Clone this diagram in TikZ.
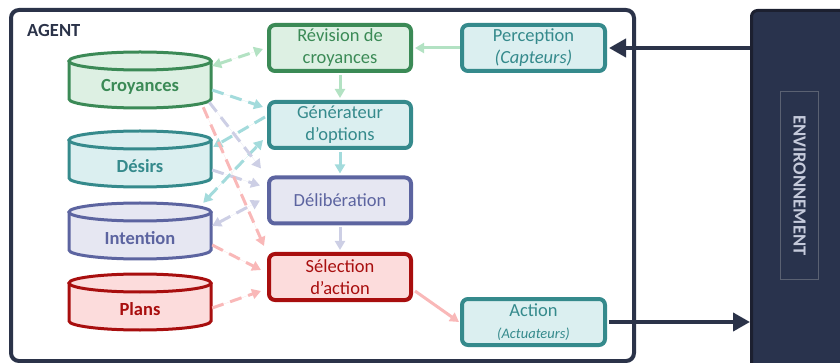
\documentclass[tikz,border=0pt]{standalone}
\usepackage{fontspec}
\setmainfont{Carlito}
\usetikzlibrary{arrows.meta,calc}

\definecolor{navy}{HTML}{2B3349}
\definecolor{envfill}{HTML}{29334D}
\definecolor{envedge}{HTML}{1C2030}
\definecolor{envline}{HTML}{5A6172}
\definecolor{envtext}{HTML}{C5CADB}
\definecolor{grn}{HTML}{3B8A56}
\definecolor{grnbg}{HTML}{DDF0E3}
\definecolor{grnlt}{HTML}{B3E2C3}
\definecolor{tea}{HTML}{358A8C}
\definecolor{teabg}{HTML}{DBEFF0}
\definecolor{tealt}{HTML}{A3DBDC}
\definecolor{ind}{HTML}{5C64A0}
\definecolor{indbg}{HTML}{E6E7F2}
\definecolor{indlt}{HTML}{CDCFE5}
\definecolor{red}{HTML}{A80E0E}
\definecolor{redbg}{HTML}{FCDCDC}
\definecolor{redlt}{HTML}{F9B8B8}

\newcommand\mainfnt{\fontsize{18.5}{22}\selectfont}
\newcommand\smallfnt{\fontsize{14.5}{18}\selectfont}

% storage drum: name, x, y, colour prefix, label
\newcommand\drum[5]{%
  \node[inner sep=0, minimum width=142, minimum height=56] (#1) at (#2,#3) {};
  \draw[line width=3, draw=#4, fill=#4bg]
    (#2-71,#3-19) -- (#2-71,#3+19)
    arc[start angle=180, end angle=0, x radius=71, y radius=9]
    -- (#2+71,#3-19);
  \draw[line width=3, draw=#4, fill=#4bg] (#2,#3-19) ellipse[x radius=71, y radius=9];
  \node[font=\mainfnt\bfseries, text=#4] at (#2,#3+7) {#5};
}

\tikzset{
  stepbox/.style={rounded corners=6, line width=4, minimum width=142, minimum height=46,
    align=center, inner sep=0, font=\mainfnt},
  ltlink/.style={line width=3, -{Triangle[length=9pt,width=10pt]}},
  dlink/.style={ltlink, dash pattern=on 12pt off 7pt},
  dlinkb/.style={dlink, {Triangle[length=9pt,width=10pt]}-{Triangle[length=9pt,width=10pt]}},
  darklink/.style={line width=4, draw=navy, -{Triangle[length=17pt,width=18pt]}},
}

\begin{document}
\begin{tikzpicture}[x=1pt, y=-1pt]
\useasboundingbox (0,0) rectangle (840,363);

% agent frame
\node[draw=navy, line width=4, rounded corners=8, minimum width=623, minimum height=351,
      inner sep=0] (agent) at (322.5,185.5) {};
\node[anchor=west, font=\mainfnt\bfseries, text=navy, inner sep=0] (agentlbl) at (27,31) {AGENT};

% environment block
\node[fill=envfill, draw=envedge, line width=3, rounded corners=6, minimum width=110,
      minimum height=372, inner sep=0, anchor=north west] (env) at (750,9) {};
\node[draw=envline, line width=1, rotate=-90, minimum width=188, minimum height=38,
      inner sep=0, font=\mainfnt\bfseries, text=envtext] (envlbl) at (799.5,185.5) {ENVIRONNEMENT};

% processing steps
\node[stepbox, draw=grn, fill=grnbg, text=grn] (rev) at (340,48) {Révision de\\croyances};
\node[stepbox, draw=tea, fill=teabg, text=tea] (gen) at (340,125) {Générateur\\d’options};
\node[stepbox, draw=ind, fill=indbg, text=ind] (delib) at (340,200.5) {Délibération};
\node[stepbox, draw=red, fill=redbg, text=red] (sel) at (340,277) {Sélection\\d’action};
\node[stepbox, minimum width=143, draw=tea, fill=teabg, text=tea] (perc) at (533.5,48)
  {Perception\\\itshape(Capteurs)};
\node[stepbox, minimum width=143, draw=tea, fill=teabg, text=tea] (act) at (533.5,322)
  {Action\\[0pt]{\smallfnt\itshape(Actuateurs)}};

% knowledge stores
\drum{croy}{140}{80}{grn}{Croyances}
\drum{des}{140}{159}{tea}{Désirs}
\drum{int}{140}{231}{ind}{Intention}
\drum{plans}{140}{302}{red}{Plans}

% main flow
\draw[ltlink, draw=grnlt, fill=grnlt] (perc.west) -- ($(rev.east)+(2,0)$);
\draw[ltlink, draw=grnlt, fill=grnlt] ($(rev.south)+(0,2)$) -- ($(gen.north)+(0,-2)$);
\draw[ltlink, draw=tealt, fill=tealt] ($(gen.south)+(0,2)$) -- ($(delib.north)+(0,-2)$);
\draw[ltlink, draw=indlt, fill=indlt] ($(delib.south)+(0,2)$) -- ($(sel.north)+(0,-2)$);
\draw[ltlink, draw=redlt, fill=redlt] ($(sel.east)+(2,14)$) -- ($(act.west)+(-1,0)$);

% store exchanges
\draw[dlinkb, draw=grnlt, fill=grnlt] ($(croy.east)+(1,-14)$) -- ($(rev.west)+(-4,1)$);
\draw[dlink, draw=tealt, fill=tealt] ($(croy.east)+(1,10)$) -- ($(gen.west)+(-4,-18)$);
\draw[dlink, draw=tealt, fill=tealt] ($(gen.west)+(-2,-8)$) -- ($(des.east)+(2,-12)$);
\draw[dlinkb, draw=tealt, fill=tealt] ($(int.north east)+(-8,0)$) -- ($(gen.west)+(-4,15)$);
\draw[dlink, draw=indlt, fill=indlt] ($(croy.south east)+(-2,-6)$) -- ($(delib.north west)+(-6,-7)$);
\draw[dlink, draw=indlt, fill=indlt] ($(des.east)+(1,11)$) -- ($(delib.west)+(-7,-15)$);
\draw[dlinkb, draw=indlt, fill=indlt] ($(int.east)+(1,-5)$) -- ($(delib.west)+(-7,0)$);
\draw[dlink, draw=redlt, fill=redlt] ($(croy.south east)+(-8,-1)$) -- ($(sel.north west)+(-3,-6)$);
\draw[dlink, draw=redlt, fill=redlt] ($(int.east)+(1,14)$) -- ($(sel.west)+(-6,-7)$);
\draw[dlink, draw=redlt, fill=redlt] ($(plans.east)+(1,6)$) -- ($(sel.west)+(-6,14)$);

% exchanges with the environment
\draw[darklink] (env.west |- perc.east) -- ($(perc.east)+(2,0)$);
\draw[darklink] ($(act.east)+(2,0)$) -- (env.west |- act.east);
\end{tikzpicture}
\end{document}
